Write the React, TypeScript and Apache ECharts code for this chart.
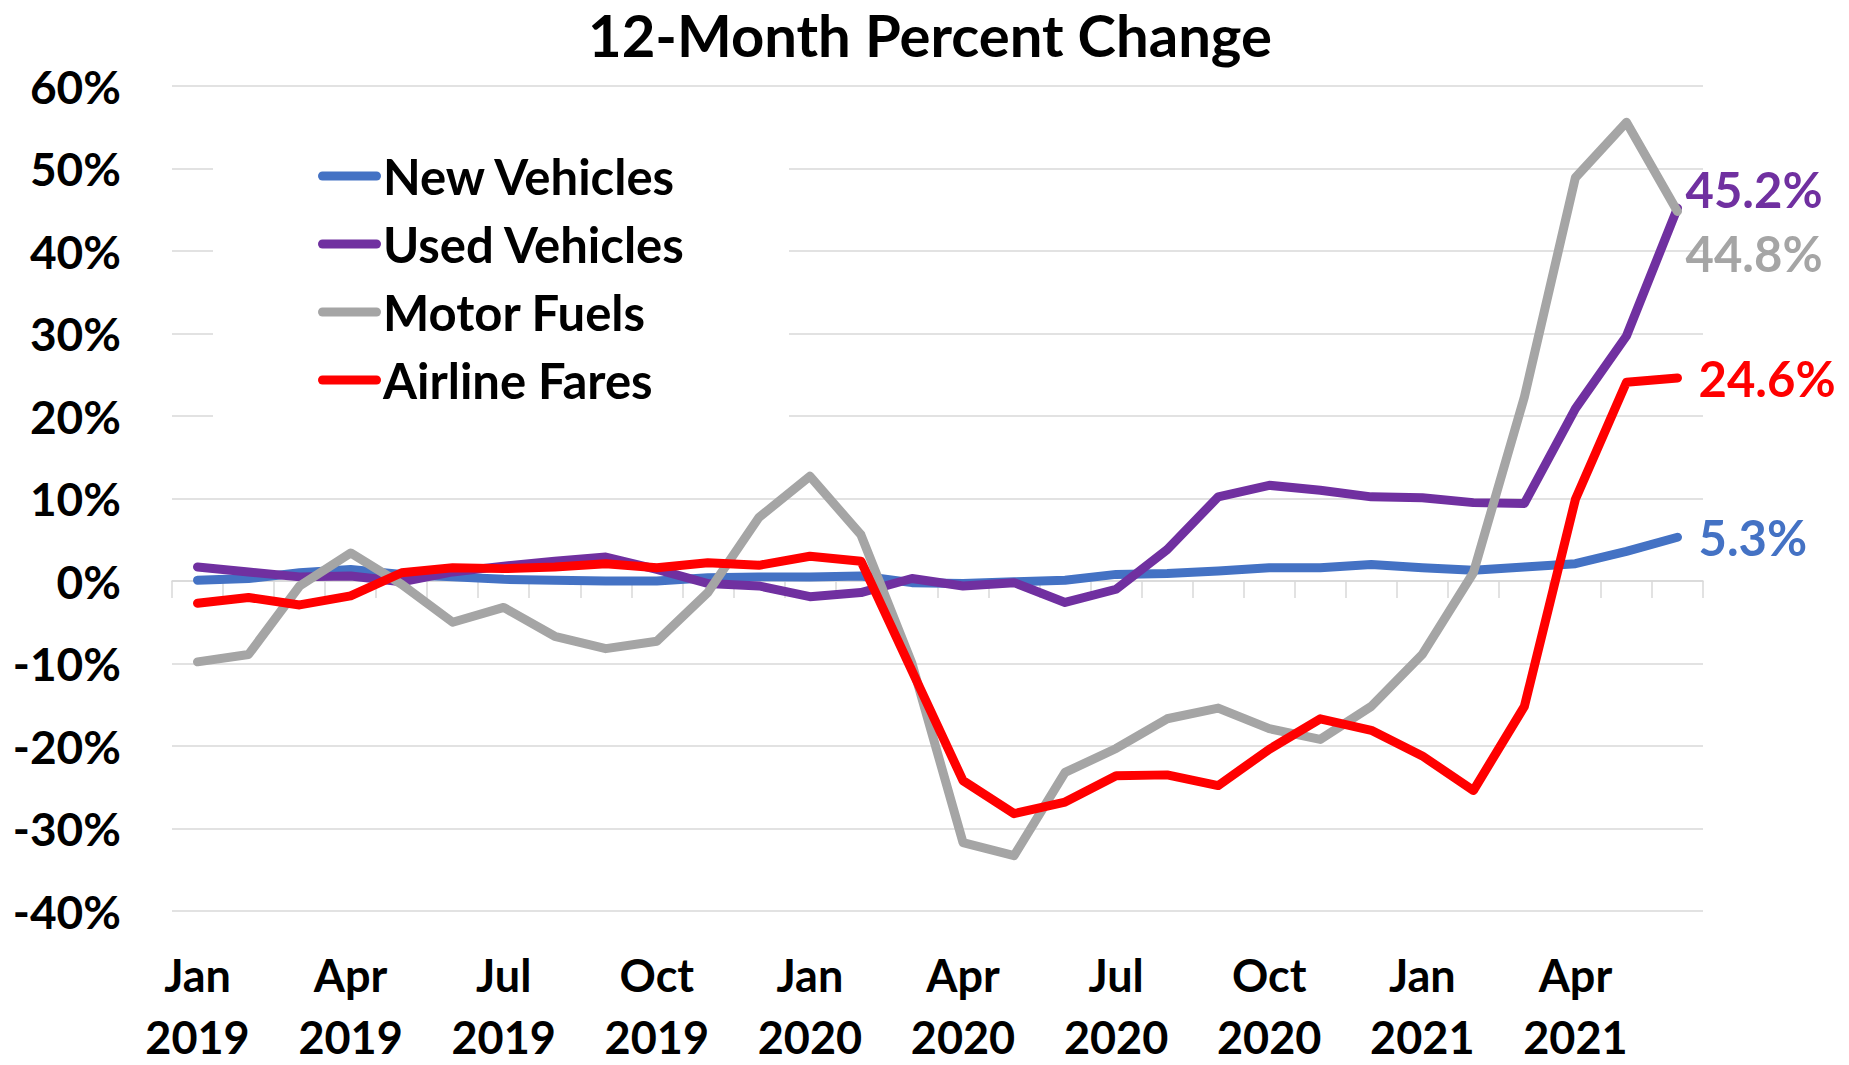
import React, { useEffect, useRef } from "react";
import * as echarts from "echarts";

const categories = [
  "Jan 2019", "Feb 2019", "Mar 2019", "Apr 2019", "May 2019", "Jun 2019",
  "Jul 2019", "Aug 2019", "Sep 2019", "Oct 2019", "Nov 2019", "Dec 2019",
  "Jan 2020", "Feb 2020", "Mar 2020", "Apr 2020", "May 2020", "Jun 2020",
  "Jul 2020", "Aug 2020", "Sep 2020", "Oct 2020", "Nov 2020", "Dec 2020",
  "Jan 2021", "Feb 2021", "Mar 2021", "Apr 2021", "May 2021", "Jun 2021",
];

const newVehicles = [
  0.1, 0.3, 1.0, 1.4, 0.8, 0.5, 0.2, 0.1, 0.0, 0.0, 0.4, 0.5,
  0.5, 0.6, -0.2, -0.3, -0.1, 0.1, 0.8, 0.9, 1.2, 1.6, 1.6, 2.0,
  1.6, 1.3, 1.7, 2.1, 3.6, 5.3,
];
const usedVehicles = [
  1.7, 1.1, 0.5, 0.6, -0.1, 1.1, 1.8, 2.4, 2.9, 1.4, -0.3, -0.6,
  -1.9, -1.4, 0.3, -0.6, -0.2, -2.6, -1.0, 3.8, 10.2, 11.6, 11.0, 10.2,
  10.1, 9.5, 9.4, 20.9, 29.7, 45.2,
];
const motorFuels = [
  -9.8, -8.9, -0.6, 3.4, -0.4, -5.0, -3.2, -6.7, -8.2, -7.3, -1.4, 7.7,
  12.7, 5.6, -10.0, -31.7, -33.3, -23.2, -20.3, -16.7, -15.4, -17.9, -19.2, -15.2,
  -8.9, 1.0, 22.3, 48.9, 55.6, 44.8,
];
const airlineFares = [
  -2.7, -2.0, -2.9, -1.8, 1.0, 1.6, 1.5, 1.7, 2.1, 1.6, 2.2, 1.9,
  3.0, 2.4, -10.9, -24.2, -28.2, -26.8, -23.6, -23.5, -24.8, -20.4, -16.7, -18.1,
  -21.2, -25.4, -15.2, 9.9, 24.1, 24.6,
];

const yMin = -40;
const yMax = 60;
const yStep = 10;

const FONT = "Lato";
const GRID_COLOR = "#d9d9d9";
const LINE_W = 9;

function lineSeries(name: string, data: number[], color: string, offset: [number, number]) {
  return {
    name,
    type: "line",
    data,
    symbol: "none",
    showSymbol: false,
    itemStyle: { color, borderWidth: 0 },
    lineStyle: { color, width: LINE_W, cap: "round", join: "round" },
    endLabel: {
      show: true,
      formatter: (p: any) => `${p.value}%`,
      color,
      fontFamily: FONT,
      fontWeight: "bold",
      fontSize: 49,
      offset,
    },
  };
}

const labelText = {
  fontFamily: FONT,
  fontWeight: "bold",
  fontSize: 45,
  color: "#000000",
};

export default function App() {
  const ref = useRef<HTMLDivElement>(null);
  useEffect(() => {
    const chart = echarts.init(ref.current!, null, { renderer: "svg" });
    chart.setOption({
      animation: false,
      backgroundColor: "#ffffff",
      textStyle: { fontFamily: FONT },
      grid: { left: 172, right: 146, top: 86, bottom: 154, outerBoundsMode: "none", containLabel: false },
      graphic: [
        {
          type: "rect",
          z: 1,
          shape: { x: 213, y: 128, width: 576, height: 300 },
          style: { fill: "#ffffff" },
        },
        {
          type: "text",
          x: 930,
          y: 34,
          z: 5,
          style: {
            text: "12-Month Percent Change",
            fontFamily: FONT,
            fontWeight: "bold",
            fontSize: 58,
            fill: "#000000",
            textAlign: "center",
            textVerticalAlign: "middle",
          },
        },
      ],
      legend: {
        orient: "vertical",
        left: 318,
        top: 147,
        padding: 0,
        icon: "path://M4.5,0 L58.5,0 A4.5,4.5 0 0 1 58.5,9 L4.5,9 A4.5,4.5 0 0 1 4.5,0 Z",
        itemWidth: 63,
        itemHeight: 9,
        itemGap: 10,
        selectedMode: false,
        itemStyle: { borderWidth: 0 },
        textStyle: {
          fontFamily: FONT,
          fontWeight: "bold",
          fontSize: 49,
          lineHeight: 58,
          color: "#000000",
          padding: [0, 0, 0, -3],
        },
        data: ["New Vehicles", "Used Vehicles", "Motor Fuels", "Airline Fares"],
      },
      xAxis: [
        {
          type: "category",
          data: categories,
          position: "bottom",
          boundaryGap: true,
          axisLine: { onZero: true, lineStyle: { color: GRID_COLOR, width: 1.5 } },
          axisTick: { show: true, interval: 0, length: 17, lineStyle: { color: GRID_COLOR, width: 1.5 } },
          axisLabel: { show: false },
          splitLine: { show: false },
        },
        {
          type: "category",
          data: categories,
          position: "bottom",
          boundaryGap: true,
          axisLine: { show: false, onZero: false },
          axisTick: { show: false },
          axisLabel: {
            interval: 2,
            formatter: (v: string) => {
              const [m, y] = v.split(" ");
              return `{m|${m}}\n{y|${y}}`;
            },
            margin: 22,
            rich: {
              m: { ...labelText, lineHeight: 84 },
              y: { ...labelText, lineHeight: 40 },
            },
          },
          splitLine: { show: false },
        },
      ],
      yAxis: {
        type: "value",
        min: yMin,
        max: yMax,
        interval: yStep,
        axisLine: { show: false },
        axisTick: { show: false },
        splitLine: { lineStyle: { color: GRID_COLOR, width: 1.5 } },
        axisLabel: {
          formatter: "{value}%",
          fontFamily: FONT,
          fontWeight: "bold",
          fontSize: 46,
          margin: 51,
          color: "#000000",
        },
      },
      series: [
        lineSeries("New Vehicles", newVehicles, "#4472C4", [13, 0]),
        lineSeries("Used Vehicles", usedVehicles, "#7030A0", [0, -19]),
        lineSeries("Motor Fuels", motorFuels, "#A5A5A5", [0, 42]),
        lineSeries("Airline Fares", airlineFares, "#FF0000", [13, 0]),
      ],
    });
    return () => chart.dispose();
  }, []);
  return (
    <div
      ref={ref}
      style={{ position: "absolute", left: 0, top: 0, width: 1849, height: 1065 }}
    />
  );
}
